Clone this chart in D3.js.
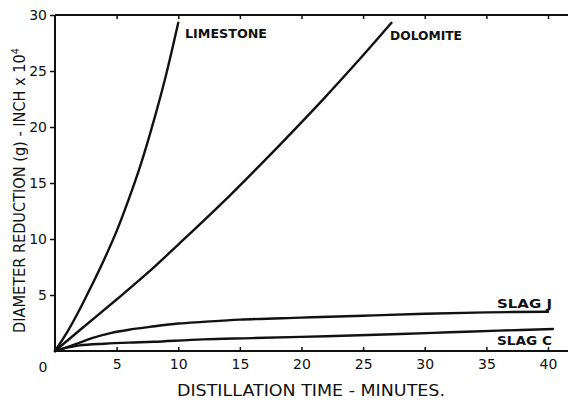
<!DOCTYPE html>
<html><head><meta charset="utf-8">
<script src="https://cdn.jsdelivr.net/npm/d3@7"></script>
<style>body{margin:0;background:#fff}svg{display:block}</style>
</head><body>
<svg id="c" width="568" height="400"></svg>
<script>
const xTicks = [5, 10, 15, 20, 25, 30, 35, 40];
const yTicks = [5, 10, 15, 20, 25, 30];
const seriesNames = ["LIMESTONE", "DOLOMITE", "SLAG J", "SLAG C"];
const limestoneT = [0, 1, 2, 3, 4, 5, 6, 7, 8, 9, 10];
const limestoneV = [0, 1.7, 3.7, 5.9, 8.2, 10.7, 13.6, 16.8, 20.5, 24.6, 29.3];
const dolomiteT = [0, 2, 5, 7.7, 10, 14.2, 18.5, 21.7, 25, 27.3];
const dolomiteV = [0, 1.85, 4.6, 7.15, 9.5, 13.9, 18.7, 22.4, 26.4, 29.3];
const slagJT = [0, 1, 2, 3, 4.5, 6, 7.7, 10, 12, 15, 20, 25, 30, 35, 40];
const slagJV = [0, 0.35, 0.75, 1.15, 1.6, 1.9, 2.15, 2.45, 2.6, 2.8, 2.98, 3.15, 3.32, 3.45, 3.5];
const slagCT = [0, 1, 2, 4, 6, 8, 12, 16, 22, 28, 32, 36, 40.4];
const slagCV = [0, 0.3, 0.5, 0.65, 0.75, 0.82, 1.04, 1.15, 1.32, 1.52, 1.67, 1.82, 1.96];

const svg = d3.select("#c");
const ink = "#111";
const x = d3.scaleLinear().domain([0, 40]).range([55, 548]);
const y = d3.scaleLinear().domain([0, 30]).range([351, 15]);
const font = "'DejaVu Sans', sans-serif";

// frame lines
svg.append("line").attr("x1", x(0)).attr("x2", 568).attr("y1", y(0)).attr("y2", y(0))
  .attr("stroke", ink).attr("stroke-width", 2);
svg.append("line").attr("x1", x(0)).attr("x2", 568).attr("y1", y(30)).attr("y2", y(30))
  .attr("stroke", ink).attr("stroke-width", 2);
svg.append("line").attr("x1", x(0)).attr("x2", x(0)).attr("y1", y(30)).attr("y2", y(0) + 1)
  .attr("stroke", ink).attr("stroke-width", 2);

// bottom axis: ticks pointing up
const xAxis = d3.axisBottom(x).tickValues(xTicks).tickSizeInner(-4).tickSizeOuter(0).tickPadding(10);
const gx = svg.append("g").attr("transform", `translate(0,${y(0)})`).call(xAxis);
gx.select(".domain").remove();
gx.selectAll(".tick line").attr("stroke", ink).attr("stroke-width", 1.5);
gx.selectAll(".tick text").attr("font-family", font).attr("font-size", 14).attr("fill", ink).attr("dy", "0.55em");

// top ticks pointing down
const topAxis = d3.axisTop(x).tickValues(xTicks).tickSizeInner(-4).tickSizeOuter(0).tickFormat("");
const gt = svg.append("g").attr("transform", `translate(0,${y(30)})`).call(topAxis);
gt.select(".domain").remove();
gt.selectAll(".tick line").attr("stroke", ink).attr("stroke-width", 1.5);

// left axis: ticks outward
const yAxis = d3.axisLeft(y).tickValues(yTicks).tickSizeInner(5).tickSizeOuter(0).tickPadding(3);
const gy = svg.append("g").attr("transform", `translate(${x(0)},0)`).call(yAxis);
gy.select(".domain").remove();
gy.selectAll(".tick line").attr("stroke", ink).attr("stroke-width", 1.5);
gy.selectAll(".tick text").attr("font-family", font).attr("font-size", 14).attr("fill", ink);

// zero label at corner
svg.append("text").attr("x", x(0) - 12).attr("y", y(0) + 21).attr("text-anchor", "middle")
  .attr("font-family", font).attr("font-size", 14).attr("fill", ink).text("0");

// curves
const line = d3.line().x(d => x(d[0])).y(d => y(d[1])).curve(d3.curveCatmullRom.alpha(0.5));
const zip = (a, b) => a.map((t, i) => [t, b[i]]);
const series = [zip(limestoneT, limestoneV), zip(dolomiteT, dolomiteV), zip(slagJT, slagJV), zip(slagCT, slagCV)];
svg.append("g").selectAll("path").data(series).join("path")
  .attr("d", line).attr("fill", "none").attr("stroke", ink).attr("stroke-width", 2.4)
  .attr("stroke-linejoin", "round").attr("stroke-linecap", "round");

// curve labels
const labelPos = [[185, 38, 82], [390, 40, 72], [497, 308, 55], [497, 345, 55]];
svg.append("g").selectAll("text").data(seriesNames).join("text")
  .attr("x", (d, i) => labelPos[i][0]).attr("y", (d, i) => labelPos[i][1])
  .attr("textLength", (d, i) => labelPos[i][2]).attr("lengthAdjust", "spacingAndGlyphs")
  .attr("font-family", font).attr("font-size", 12.5).attr("font-weight", "bold").attr("fill", ink)
  .text(d => d);

// axis titles
svg.append("text").attr("x", 177).attr("y", 396).attr("textLength", 268).attr("lengthAdjust", "spacingAndGlyphs")
  .attr("font-family", font).attr("font-size", 15).attr("fill", ink).text("DISTILLATION TIME - MINUTES.");
const yt = svg.append("text").attr("transform", "translate(25,333) rotate(-90)")
  .attr("textLength", 285).attr("lengthAdjust", "spacingAndGlyphs")
  .attr("font-family", font).attr("font-size", 15).attr("fill", ink);
yt.append("tspan").text("DIAMETER REDUCTION (g) - INCH x 10");
yt.append("tspan").attr("dy", -6).attr("font-size", 10).text("4");
</script>
</body></html>
